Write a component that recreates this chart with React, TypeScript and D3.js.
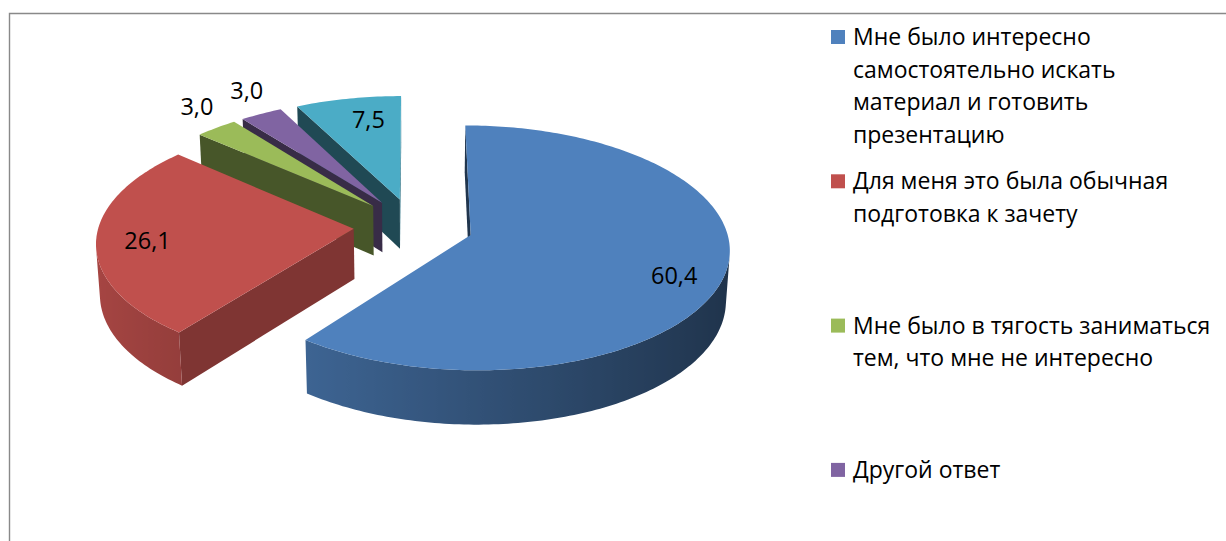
import React from "react";
import * as d3 from "d3";

// ---- data ----
const categories = [
  "Мне было интересно самостоятельно искать материал и готовить презентацию",
  "Для меня это была обычная подготовка к зачету",
  "Мне было в тягость заниматься тем, что мне не интересно",
  "Другой ответ",
  "",
];
const values = [60.4, 26.1, 3.0, 3.0, 7.5];
const valueLabels = ["60,4", "26,1", "3,0", "3,0", "7,5"];
const colors = ["#4F81BD", "#C0504D", "#9BBB59", "#8064A2", "#4BACC6"];
const legendLines = [
  ["Мне было интересно", "самостоятельно искать", "материал и готовить", "презентацию"],
  ["Для меня это была обычная", "подготовка к зачету"],
  ["Мне было в тягость заниматься", "тем, что мне не интересно"],
  ["Другой ответ"],
];

// ---- layout ----
const W = 1226;
const H = 541;
const S = 255;
const SIN_P = 0.4675;
const COS_P = Math.sqrt(1 - SIN_P * SIN_P);
const DIST = 8.52;
const CX = 413.5;
const CY = 226;
const DEPTH = 0.225;
const EXPLODE = 0.235;
const CAM = [0, -DIST * COS_P, DIST * SIN_P];
const FONT = "'Open Sans', 'DejaVu Sans', sans-serif";

function project(X: number, Y: number, Z: number): [number, number, number] {
  const yc = Y * SIN_P + Z * COS_P;
  const d = Y * COS_P - Z * SIN_P;
  const s = DIST / (DIST + d);
  return [CX + S * X * s, CY - S * yc * s, d];
}

function shade(c: string, f: number) {
  const r = d3.rgb(c);
  return d3.rgb(r.r * f, r.g * f, r.b * f).formatHex();
}

type Face = {
  pts: [number, number][];
  depth: number;
  fill: string;
  grad?: { x1: number; x2: number; stops: { o: number; c: string }[] };
};

const line = d3.line<[number, number]>().x((p) => p[0]).y((p) => p[1]);

export default function App() {
  const arcs = d3
    .pie<number>()
    .sort(null)
    .startAngle(0)
    .endAngle(2 * Math.PI)(values);

  const sides: Face[] = [];
  const tops: { d: string; fill: string }[] = [];
  const labels: { x: number; y: number; text: string }[] = [];

  arcs.forEach((a, i) => {
    const mid = (a.startAngle + a.endAngle) / 2;
    const ox = EXPLODE * Math.sin(mid);
    const oy = EXPLODE * Math.cos(mid);
    const n = Math.max(2, Math.ceil(((a.endAngle - a.startAngle) * 180) / Math.PI / 1));
    const angles = d3.range(n + 1).map((k) => a.startAngle + ((a.endAngle - a.startAngle) * k) / n);
    const P3 = (t: number, z: number): [number, number, number] => [ox + Math.sin(t), oy + Math.cos(t), z];
    const visible = (nx: number, ny: number, p: number[]) =>
      nx * (CAM[0] - p[0]) + ny * (CAM[1] - p[1]) > 0;
    const proj2 = (p: [number, number, number]) => {
      const q = project(p[0], p[1], p[2]);
      return [q[0], q[1]] as [number, number];
    };
    const depthOf = (pts3: [number, number, number][]) =>
      d3.mean(pts3.map((p) => project(p[0], p[1], p[2])[2])) as number;

    // curved outer side: contiguous visible runs as one gradient-filled face
    let run: number[] = [];
    const flush = () => {
      if (run.length < 2) {
        run = [];
        return;
      }
      const tps = run.map((t) => P3(t, 0));
      const bps = run.map((t) => P3(t, -DEPTH));
      const pts = [...tps.map(proj2), ...bps.reverse().map(proj2)];
      const xs = run.map((t) => proj2(P3(t, 0))[0]);
      const x1 = d3.min(xs) as number;
      const x2 = d3.max(xs) as number;
      const stops = run.map((t, k) => ({
        o: (xs[k] - x1) / Math.max(1, x2 - x1),
        c: shade(colors[i], 0.63 + 0.24 * -Math.sin(t)),
      }));
      stops.sort((p, q) => p.o - q.o);
      sides.push({ pts, depth: depthOf(tps), fill: stops[0].c, grad: { x1, x2, stops } });
      run = [];
    };
    angles.forEach((t) => {
      const c = P3(t, -DEPTH / 2);
      if (visible(Math.sin(t), Math.cos(t), c)) run.push(t);
      else flush();
    });
    flush();

    // radial faces
    const radial = (t: number, nx: number, ny: number) => {
      const apex0: [number, number, number] = [ox, oy, 0];
      const apex1: [number, number, number] = [ox, oy, -DEPTH];
      const c = P3(t, -DEPTH / 2);
      const cen = [(c[0] + ox) / 2, (c[1] + oy) / 2];
      if (!visible(nx, ny, cen)) return;
      const f = 0.55 + 0.14 * nx;
      const pts3 = [apex0, P3(t, 0), P3(t, -DEPTH), apex1];
      sides.push({ pts: pts3.map(proj2), depth: depthOf(pts3), fill: shade(colors[i], f) });
    };
    radial(a.startAngle, -Math.cos(a.startAngle), Math.sin(a.startAngle));
    radial(a.endAngle, Math.cos(a.endAngle), -Math.sin(a.endAngle));

    // top
    const topPts = [[ox, oy, 0] as [number, number, number], ...angles.map((t) => P3(t, 0))].map(proj2);
    tops.push({ d: line(topPts) + "Z", fill: colors[i] });

    // label
    const v = values[i];
    const rx = v > 20 ? 0.8 : v > 5 ? 0.6 : 1.15;
    const ry = v > 20 ? 1.0 : v > 5 ? 0.78 : 1.3;
    const lp = project(ox + rx * Math.sin(mid), oy + ry * Math.cos(mid), 0);
    labels.push({ x: lp[0], y: lp[1], text: valueLabels[i] });
  });

  sides.sort((p, q) => q.depth - p.depth);

  const legendY = d3.scaleLinear().domain([0, 1]).range([45, 189.3]);

  return (
    <svg
      width={W}
      height={H}
      style={{ position: "absolute", left: 0, top: 0, display: "block", background: "#fff" }}
    >
      <defs>
        {sides.map((f, k) =>
          f.grad ? (
            <linearGradient key={k} id={`sg${k}`} gradientUnits="userSpaceOnUse" x1={f.grad.x1} x2={f.grad.x2} y1={0} y2={0}>
              {f.grad.stops.map((s, j) => (
                <stop key={j} offset={s.o} stopColor={s.c} />
              ))}
            </linearGradient>
          ) : null
        )}
      </defs>
      <path d={`M9.5,${H} V13.5 H${W}`} fill="none" stroke="#898989" strokeWidth={1.4} />
      <g>
        {sides.map((f, k) => (
          <path key={k} d={line(f.pts) + "Z"} fill={f.grad ? `url(#sg${k})` : f.fill} />
        ))}
      </g>
      <g>
        {tops.map((t, k) => (
          <path key={k} d={t.d} fill={t.fill} />
        ))}
      </g>
      <g fontFamily={FONT} fontSize={23.5} fill="#000">
        {labels.map((l, k) => (
          <text key={k} x={l.x} y={l.y} textAnchor="middle" dominantBaseline="central">
            {l.text}
          </text>
        ))}
      </g>
      <g fontFamily={FONT} fontSize={23} fill="#000">
        {legendLines.map((lines, i) =>
          categories[i] ? (
            <g key={i} transform={`translate(0,${legendY(i)})`}>
              <rect x={831} y={-15} width={14} height={14} fill={colors[i]} />
              {lines.map((t, j) => (
                <text key={j} x={853} y={j * 32.6}>
                  {t}
                </text>
              ))}
            </g>
          ) : null
        )}
      </g>
    </svg>
  );
}
